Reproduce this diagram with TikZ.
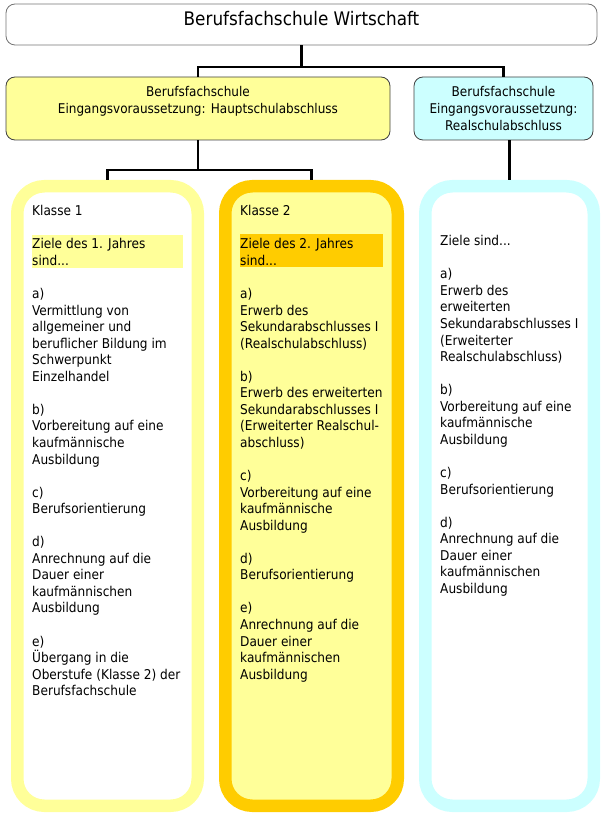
\documentclass[tikz,border=0pt]{standalone}
\usepackage{fontspec}
\setmainfont{DejaVu Sans Condensed}
\definecolor{paleyellow}{HTML}{FFFF99}
\definecolor{goldyellow}{HTML}{FFCC00}
\definecolor{palecyan}{HTML}{CCFFFF}
\begin{document}
\begin{tikzpicture}[
x=1pt, y=-1pt,
box/.style={rectangle, rounded corners=9pt, draw=black!75, line width=0.8pt, align=center, inner sep=0pt, font=\fontsize{13.4}{17}\selectfont},
column/.style={rectangle, rounded corners=27pt, line width=12.5pt, minimum height=619.5pt},
hilite/.style={rectangle, inner sep=0pt, minimum height=33pt},
goals/.style={anchor=north west, align=left, inner sep=0pt, font=\fontsize{13.5}{16.55}\selectfont},
conn/.style={line width=2.6pt}
]
\useasboundingbox (0,0) rectangle (606,826);
\node[box, draw=black!55, minimum width=591pt, minimum height=41pt, text height=12.5pt, text depth=9.5pt, font=\fontsize{18.7}{22}\selectfont] (title) at (301.5,24.5) {Berufsfachschule Wirtschaft};
\node[box, fill=paleyellow, minimum width=384pt, minimum height=63pt] (haupt) at (198,108.5) {Berufsfachschule\\Eingangsvoraussetzung: Hauptschulabschluss\\\mbox{}};
\node[box, fill=palecyan, minimum width=179pt, minimum height=63pt] (real) at (503.5,108.5) {Berufsfachschule\\Eingangsvoraussetzung:\\Realschulabschluss};

\node[column, draw=paleyellow, fill=white, minimum width=180.5pt] (k1) at (107.5,496) {};
\node[column, draw=goldyellow, fill=paleyellow, minimum width=172.5pt] (k2) at (311.5,496) {};
\node[column, draw=palecyan, fill=white, minimum width=168.5pt] (rs) at (509.5,496) {};

\node[hilite, fill=paleyellow, minimum width=151pt] (z1) at (107.5,251.5) {};
\node[hilite, fill=goldyellow, minimum width=143pt] (z2) at (311.5,250.5) {};

\node[goals] (t1) at (32,205.3) {Klasse 1\\[16.55pt]
Ziele des 1. Jahres\\sind...\\[16.55pt]
a)\\Vermittlung von\\allgemeiner und\\beruflicher Bildung im\\Schwerpunkt\\Einzelhandel\\[16.55pt]
b)\\Vorbereitung auf eine\\kaufmännische\\Ausbildung\\[16.55pt]
c)\\Berufsorientierung\\[16.55pt]
d)\\Anrechnung auf die\\Dauer einer\\kaufmännischen\\Ausbildung\\[16.55pt]
e)\\Übergang in die\\Oberstufe (Klasse 2) der\\Berufsfachschule};
\node[goals] (t2) at (240,205.3) {Klasse 2\\[16.55pt]
Ziele des 2. Jahres\\sind...\\[16.55pt]
a)\\Erwerb des\\Sekundarabschlusses I\\(Realschulabschluss)\\[16.55pt]
b)\\Erwerb des erweiterten\\Sekundarabschlusses I\\(Erweiterter Realschul-\\abschluss)\\[16.55pt]
c)\\Vorbereitung auf eine\\kaufmännische\\Ausbildung\\[16.55pt]
d)\\Berufsorientierung\\[16.55pt]
e)\\Anrechnung auf die\\Dauer einer\\kaufmännischen\\Ausbildung};
\node[goals] (t3) at (440,235.3) {Ziele sind...\\[16.55pt]
a)\\Erwerb des\\erweiterten\\Sekundarabschlusses I\\(Erweiterter\\Realschulabschluss)\\[16.55pt]
b)\\Vorbereitung auf eine\\kaufmännische\\Ausbildung\\[16.55pt]
c)\\Berufsorientierung\\[16.55pt]
d)\\Anrechnung auf die\\Dauer einer\\kaufmännischen\\Ausbildung};

\coordinate (f1) at (301.5,67);
\coordinate (f2) at (198,170);
\draw[conn] (title.south) -- (f1);
\draw[conn] (haupt.north) |- (f1) -| (real.north);
\draw[conn] (haupt.south) -- (f2);
\draw[conn] (k1.north) |- (f2) -| (k2.north);
\draw[conn] (real.south -| rs.north) -- (rs.north);
\end{tikzpicture}
\end{document}
